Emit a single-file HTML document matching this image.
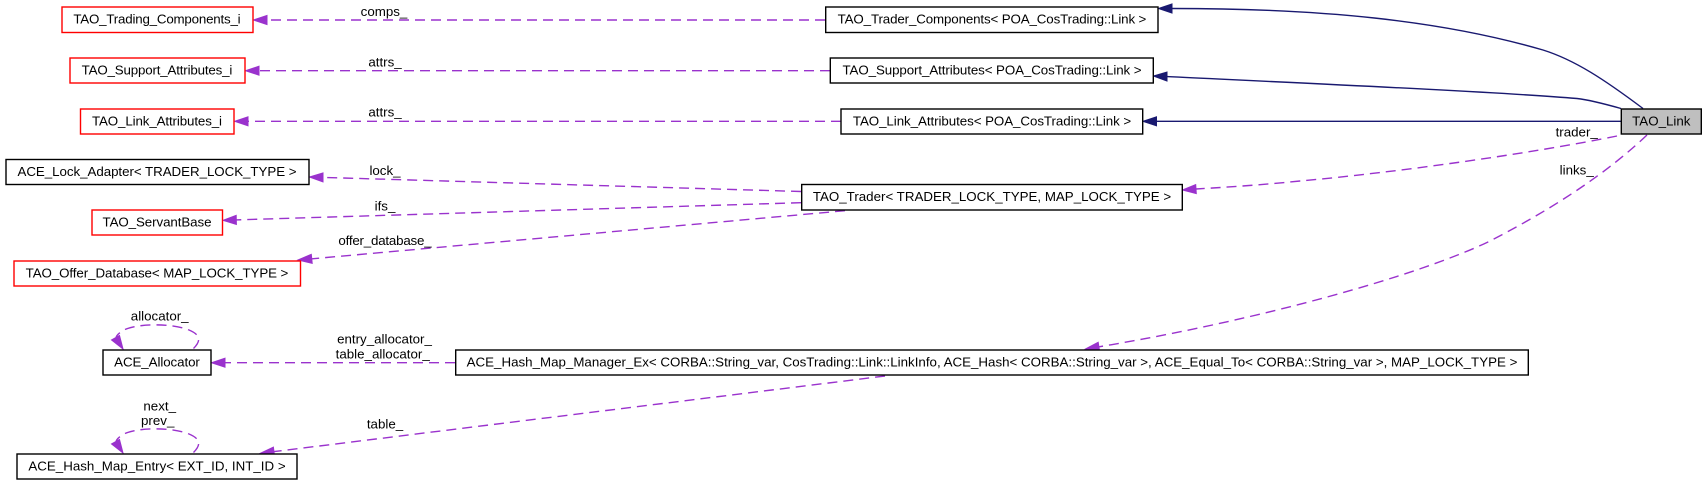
<!DOCTYPE html>
<html><head><meta charset="utf-8"><style>
html,body{margin:0;padding:0;background:#fff;width:1707px;height:485px;overflow:hidden}
svg{display:block}
text{font-family:"Liberation Sans",sans-serif;font-size:13.33px;fill:#000;text-anchor:middle}
.b{fill:#fff;stroke:#000;stroke-width:1.4}
.r{fill:#fff;stroke:#f00;stroke-width:1.4}
.d{fill:none;stroke:#9a32cd;stroke-width:1.4;stroke-dasharray:10 6}
.s{fill:none;stroke:#191970;stroke-width:1.4}
.ad{fill:#9a32cd;stroke:#9a32cd;stroke-width:1}
.as{fill:#191970;stroke:#191970;stroke-width:1}
</style></head><body>
<svg width="1707" height="485" viewBox="0 0 1707 485" xmlns="http://www.w3.org/2000/svg">
<!-- solid edges -->
<path class="s" d="M1643,108.5 C1605,80 1575,60 1543,50 C1440,20 1320,8.5 1172,8.5"/>
<polygon class="as" points="1158.5,8.5 1172,4 1172,13"/>
<path class="s" d="M1621,108.5 C1605,104 1590,100 1577,98.5 C1500,92 1300,83 1167,76.6"/>
<polygon class="as" points="1153.5,76 1167,72 1167,81"/>
<path class="s" d="M1621,121.3 L1156,121.3"/>
<polygon class="as" points="1143,121.3 1156.5,116.8 1156.5,125.8"/>
<!-- dashed edges -->
<path class="d" d="M825,20 L267,20"/>
<polygon class="ad" points="253.5,20 267,15.5 267,24.5"/>
<path class="d" d="M830,70.7 L259,70.7"/>
<polygon class="ad" points="245.5,70.7 259,66.2 259,75.2"/>
<path class="d" d="M841,121.3 L248,121.3"/>
<polygon class="ad" points="234.5,121.3 248,116.8 248,125.8"/>
<path class="d" d="M801,191.5 L323,177.4"/>
<polygon class="ad" points="309.5,177 323,172.9 323,181.9"/>
<path class="d" d="M801,202.7 L236,219.9"/>
<polygon class="ad" points="223,220.3 236.2,215.4 236.4,224.4"/>
<path class="d" d="M845,210.7 L312,258.8"/>
<polygon class="ad" points="298,260 311.3,254.3 312.2,263.3"/>
<path class="d" d="M455,362.7 L225,362.7"/>
<polygon class="ad" points="211.5,362.7 225,358.2 225,367.2"/>
<path class="d" d="M193.5,348.5 C201,341 201,335 189,330 C172,323 135,323 122,331 C118,334 116,336 116,338"/>
<polygon class="ad" points="123,349 111.5,340 119.5,335.5"/>
<path class="d" d="M193.5,452.5 C201,445 201,439 189,434 C172,427 135,427 122,435 C118,438 116,440 116,442"/>
<polygon class="ad" points="123,453 111.5,444 119.5,439.5"/>
<path class="d" d="M885,376 L274,451.6"/>
<polygon class="ad" points="260.5,453.2 273.4,447.1 274.5,456"/>
<path class="d" d="M1617,136 C1533,153 1400,172 1300,181 C1260,185 1230,187 1196,189"/>
<polygon class="ad" points="1182.5,190 1195.7,184.6 1196.3,193.6"/>
<path class="d" d="M1647,135 C1610,170 1560,205 1490,241 C1420,275 1260,320 1099,346.8"/>
<polygon class="ad" points="1085.5,349 1098.2,342.3 1099.6,351.2"/>
<!-- nodes -->
<rect class="r" x="62" y="7" width="191" height="25.5"/><text x="157" y="23.3" textLength="167.3" lengthAdjust="spacing">TAO_Trading_Components_i</text>
<rect class="r" x="70" y="58" width="175" height="25"/><text x="157" y="74.3" textLength="150.7" lengthAdjust="spacing">TAO_Support_Attributes_i</text>
<rect class="r" x="80.5" y="109" width="153.5" height="25"/><text x="157" y="125.3" textLength="130" lengthAdjust="spacing">TAO_Link_Attributes_i</text>
<rect class="b" x="6" y="159.5" width="303" height="25"/><text x="157" y="175.8" textLength="279" lengthAdjust="spacing">ACE_Lock_Adapter&lt; TRADER_LOCK_TYPE &gt;</text>
<rect class="r" x="92" y="210" width="130.5" height="25"/><text x="157" y="226.3" textLength="109" lengthAdjust="spacing">TAO_ServantBase</text>
<rect class="r" x="14" y="261" width="286.5" height="25"/><text x="157" y="277.3" textLength="262.7" lengthAdjust="spacing">TAO_Offer_Database&lt; MAP_LOCK_TYPE &gt;</text>
<rect class="b" x="103" y="350" width="108" height="25"/><text x="157" y="366.3" textLength="85.7" lengthAdjust="spacing">ACE_Allocator</text>
<rect class="b" x="17" y="454" width="280" height="25"/><text x="157" y="470.3" textLength="257.3" lengthAdjust="spacing">ACE_Hash_Map_Entry&lt; EXT_ID, INT_ID &gt;</text>
<rect class="b" x="825.7" y="7" width="332.3" height="25.5"/><text x="992" y="23.3" textLength="308.7" lengthAdjust="spacing">TAO_Trader_Components&lt; POA_CosTrading::Link &gt;</text>
<rect class="b" x="830.3" y="58" width="323" height="25"/><text x="992" y="74.3" textLength="299" lengthAdjust="spacing">TAO_Support_Attributes&lt; POA_CosTrading::Link &gt;</text>
<rect class="b" x="841" y="109" width="301.7" height="25"/><text x="992" y="125.3" textLength="278.3" lengthAdjust="spacing">TAO_Link_Attributes&lt; POA_CosTrading::Link &gt;</text>
<rect class="b" x="801.7" y="184.5" width="380.6" height="25.5"/><text x="992" y="200.8">TAO_Trader&lt; TRADER_LOCK_TYPE, MAP_LOCK_TYPE &gt;</text>
<rect class="b" x="455.7" y="350" width="1072.6" height="25"/><text x="992" y="366.3">ACE_Hash_Map_Manager_Ex&lt; CORBA::String_var, CosTrading::Link::LinkInfo, ACE_Hash&lt; CORBA::String_var &gt;, ACE_Equal_To&lt; CORBA::String_var &gt;, MAP_LOCK_TYPE &gt;</text>
<rect x="1621.3" y="109" width="80" height="25" fill="#bfbfbf" stroke="#000" stroke-width="1.4"/><text x="1661.3" y="125.3">TAO_Link</text>
<!-- labels -->
<text x="384" y="16">comps_</text>
<text x="385" y="66.7">attrs_</text>
<text x="385" y="116.7">attrs_</text>
<text x="385" y="175">lock_</text>
<text x="385" y="210.7">ifs_</text>
<text x="385" y="245" textLength="93.3" lengthAdjust="spacing">offer_database_</text>
<text x="159.7" y="320.7">allocator_</text>
<text x="384.5" y="343.3">entry_allocator_</text>
<text x="382.7" y="358.3">table_allocator_</text>
<text x="159.7" y="410.7">next_</text>
<text x="157.7" y="425">prev_</text>
<text x="385" y="428.7">table_</text>
<text x="1576.7" y="136.7">trader_</text>
<text x="1576.7" y="174.7">links_</text>
</svg>
</body></html>
